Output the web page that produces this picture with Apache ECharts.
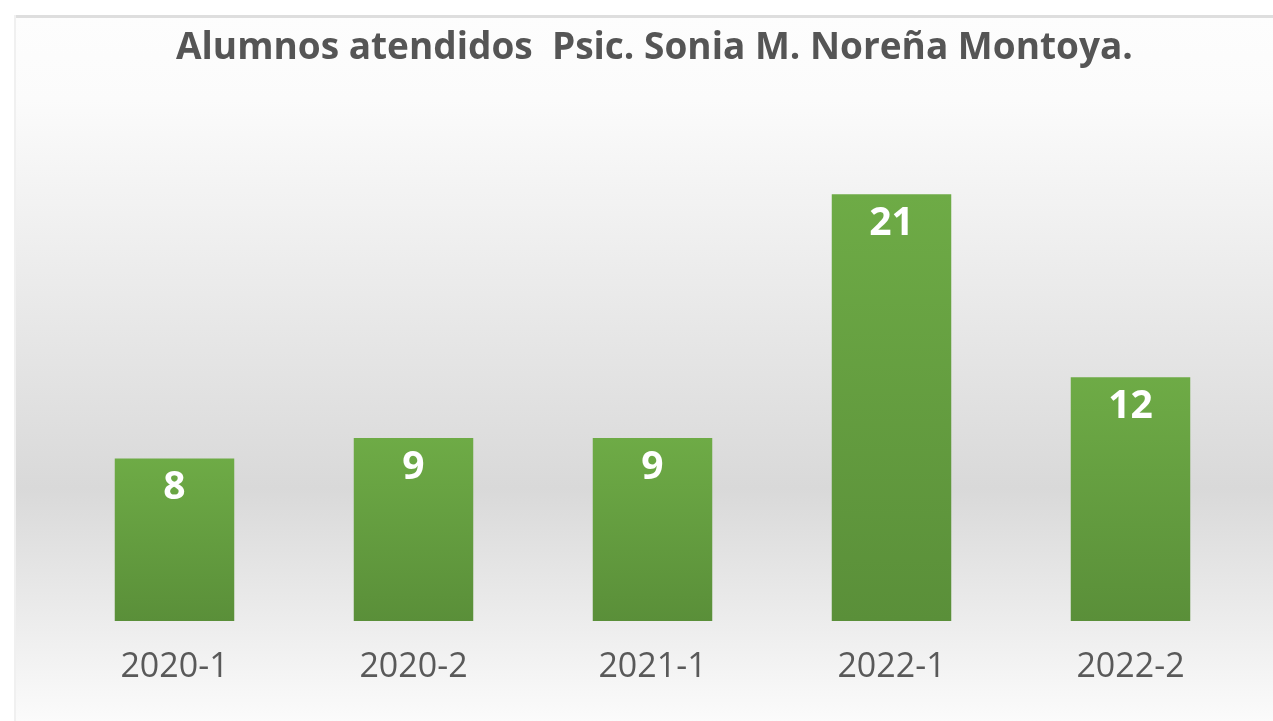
<!DOCTYPE html>
<html>
<head>
<meta charset="utf-8">
<script src="https://cdn.jsdelivr.net/npm/echarts@6/dist/echarts.min.js"></script>
<style>
html,body{margin:0;padding:0;background:#ffffff;}
#chart{width:1273px;height:721px;}
</style>
</head>
<body>
<div id="chart"></div>
<script>
const titleText = 'Alumnos atendidos  Psic. Sonia M. Noreña Montoya.';
const categories = ['2020-1', '2020-2', '2021-1', '2022-1', '2022-2'];
const values = [8, 9, 9, 21, 12];

const chart = echarts.init(document.getElementById('chart'));
chart.setOption({
  animation: false,
  backgroundColor: '#ffffff',
  graphic: [
    {
      type: 'rect', z: -10, silent: true,
      shape: { x: 15, y: 15, width: 1258, height: 706 },
      style: {
        fill: new echarts.graphic.LinearGradient(0, 0, 0, 1, [
          { offset: 0, color: '#fdfdfd' },
          { offset: 0.12, color: '#fbfbfb' },
          { offset: 0.67, color: '#d9d9d9' },
          { offset: 1, color: '#fbfbfb' }
        ])
      }
    },
    {
      type: 'rect', z: -9, silent: true,
      shape: { x: 15, y: 15, width: 1258, height: 3 },
      style: { fill: '#dedede' }
    },
    {
      type: 'rect', z: -9, silent: true,
      shape: { x: 14, y: 15, width: 2, height: 706 },
      style: { fill: '#f0f0f0' }
    }
  ],
  title: {
    text: titleText,
    left: 176,
    top: 30,
    padding: 0,
    textStyle: {
      fontFamily: 'Open Sans',
      fontWeight: 'bold',
      fontSize: 37,
      color: '#555555'
    }
  },
  grid: { left: 55, right: 23, top: 113, bottom: 100 },
  xAxis: {
    type: 'category',
    data: categories,
    axisLine: { show: false },
    axisTick: { show: false },
    axisLabel: {
      margin: 29,
      fontFamily: 'Open Sans',
      fontSize: 34,
      color: '#595959'
    }
  },
  yAxis: {
    type: 'value',
    min: 0,
    max: 25,
    show: false,
    splitLine: { show: false }
  },
  series: [{
    type: 'bar',
    data: values,
    barWidth: '50%',
    itemStyle: {
      color: new echarts.graphic.LinearGradient(0, 0, 0, 1, [
        { offset: 0, color: '#6eab46' },
        { offset: 1, color: '#5a8f39' }
      ])
    },
    label: {
      show: true,
      position: 'insideTop',
      distance: 10,
      fontFamily: 'Open Sans',
      fontWeight: 'bold',
      fontSize: 39,
      color: '#ffffff'
    }
  }]
});
</script>
</body>
</html>
